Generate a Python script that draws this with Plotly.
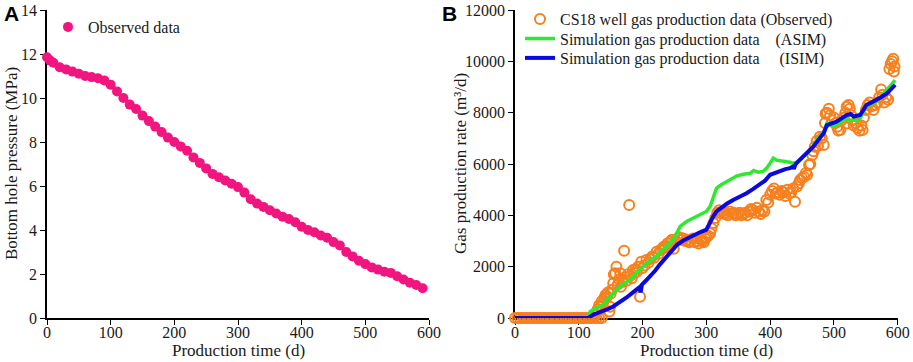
import plotly.graph_objects as go

# ---------------- Panel A data ----------------
bhp_days = [0, 5, 10, 20, 30, 40, 50, 60, 70, 80, 90, 100, 110, 120, 130, 140, 150, 160, 170, 180,
            190, 200, 210, 220, 230, 240, 250, 260, 270, 280, 290, 300, 310, 320, 330, 340, 350,
            360, 370, 380, 390, 400, 410, 420, 430, 440, 450, 460, 470, 480, 490, 500, 510, 520,
            530, 540, 550, 560, 570, 580, 590]
bhp_mpa = [11.85, 11.7, 11.6, 11.4, 11.3, 11.2, 11.1, 11.0, 10.95, 10.9, 10.8, 10.6, 10.3, 10.0, 9.7,
           9.5, 9.2, 8.95, 8.7, 8.45, 8.2, 8.0, 7.8, 7.6, 7.3, 7.05, 6.8, 6.55, 6.4, 6.25, 6.1, 5.95,
           5.7, 5.4, 5.2, 5.05, 4.9, 4.75, 4.6, 4.5, 4.35, 4.15, 4.0, 3.9, 3.75, 3.65, 3.45, 3.3, 3.0,
           2.8, 2.6, 2.45, 2.3, 2.2, 2.1, 2.05, 1.9, 1.75, 1.6, 1.5, 1.35]
a_xticks = [0, 100, 200, 300, 400, 500, 600]
a_yticks = [0, 2, 4, 6, 8, 10, 12, 14]

# ---------------- Panel B data ----------------
obs_days = [0, 4, 8, 12, 16, 20, 24, 28, 32, 36, 40, 44, 48, 52, 56, 60, 64, 68, 72, 76, 80, 84, 88,
            92, 96, 100, 104, 108, 112, 116, 120, 124, 128, 132, 136,
            126, 128, 130, 132, 134, 136, 138, 140, 142, 144, 146, 148, 149, 150, 152, 154, 155, 157,
            159, 161, 163, 165, 166, 168, 170, 171, 173, 175, 177, 179, 181, 183, 185, 187, 189, 191,
            193, 196, 198, 200, 203, 206, 209, 212, 215, 218, 222, 225, 228, 231, 233, 236, 239, 241,
            243, 246, 249, 252, 255, 258, 261, 264, 267, 270, 273, 276, 279, 282, 285, 288, 291, 294,
            296, 298, 300, 303, 306, 308, 311, 314, 317, 320, 322, 325, 328, 331, 334, 337, 340, 343,
            346, 349, 352, 355, 358, 361, 364, 367, 370, 373, 376, 379, 382, 385, 388, 391, 394, 397,
            400, 403, 406, 409, 412, 415, 418, 421, 424, 427, 430, 433, 436, 439, 442, 445, 447, 450,
            453, 456, 458, 461, 463, 466, 468, 470, 473, 475, 478, 481, 484, 486, 487, 489, 492, 494,
            497, 500, 503, 505, 507, 510, 512, 515, 518, 520, 521, 523, 525, 527, 529, 531, 534, 537,
            540, 543, 545, 547, 550, 553, 556, 559, 562, 565, 568, 571, 574, 576, 579, 582, 585, 587,
            589, 591, 593, 594, 595]
obs_rate = [0, 0, 0, 0, 0, 0, 0, 0, 0, 0, 0, 0, 0, 0, 0, 0, 0, 0, 0, 0, 0, 0, 0,
            0, 0, 0, 0, 0, 0, 0, 0, 0, 0, 0, 0,
            120, 250, 350, 500, 440, 650, 570, 780, 900, 830, 1000, 250, 440, 950, 1100, 1350, 1700, 1740,
            2000, 1300, 1500, 1740, 1220, 1400, 1480, 2620, 1600, 1450, 1700, 4400, 1650, 1550, 1870, 1750, 1900, 1800,
            2000, 830, 2190, 1950, 2050, 2260, 2150, 2300, 2400, 2350, 2580, 2500, 2650, 2700, 2780, 2750, 2900, 2800,
            2970, 3050, 2700, 3000, 3100, 3150, 3050, 3100, 3000, 3050, 2950, 3000, 3100, 2950, 3000, 2900, 3050, 3000,
            2950, 3100, 3150, 3200, 3300, 3500, 3700, 3900, 4100, 4200, 4100, 4150, 4050, 4100, 4000, 4150, 4050, 4100,
            4000, 4050, 4100, 4000, 4050, 4100, 4000, 4150, 4250, 4200, 4100, 4300, 4150, 4050, 4200, 4150, 4600, 4500,
            4800, 4950, 5050, 4850, 4900, 4800, 4950, 4900, 4750, 5000, 4850, 4900, 5050, 4530, 5120, 5250, 5380, 5450,
            5500, 5650, 5570, 5960, 6000, 6350, 6500, 6670, 6900, 6700, 7060, 7000, 6740, 7600, 7960, 8000, 8150, 7900,
            7700, 7800, 7600, 7450, 7300, 7320, 7700, 7800, 8000, 8230, 7580, 8300, 8150, 7900, 7700, 7500, 7600, 7400,
            7300, 7500, 7320, 7800, 8100, 8300, 8400, 8250, 8100, 8300, 8400, 8600, 8900, 8700, 8400, 8600, 8500, 9700,
            9900, 10000, 10100, 9600, 9800]

asim_days = [0, 115, 118, 128, 138, 148, 159, 170, 180, 190, 201, 212, 222, 230, 238, 248, 259, 269, 280,
             290, 300, 306, 316, 324, 332, 340, 348, 358, 369, 374, 381, 389, 395, 400, 405, 410, 416,
             423, 431, 436, 442, 447, 452, 458, 463, 468, 473, 479, 484, 489, 496, 504, 512, 520, 525,
             531, 536, 541, 546, 551, 559, 567, 575, 583, 590, 596]
asim_rate = [0, 0, 260, 380, 520, 800, 1100, 1320, 1490, 1740, 2010, 2230, 2400, 2620, 2790, 3050, 3570,
             3760, 3890, 4020, 4150, 4350, 5060, 5200, 5320, 5450, 5540, 5600, 5640, 5750, 5680, 5710,
             5850, 6030, 6230, 6150, 6130, 6100, 6070, 6020, 6070, 6150, 6290, 6400, 6550, 6700, 6940,
             7100, 7260, 7590, 7480, 7520, 7650, 7780, 7700, 7720, 7680, 7780, 8000, 8240, 8350, 8430,
             8650, 8880, 9050, 9270]

isim_days = [0, 115, 123, 130, 138, 146, 154, 165, 175, 185, 195, 197, 199, 205, 212, 220, 227, 235, 243,
             254, 264, 272, 280, 290, 300, 305, 311, 316, 322, 332, 342, 352, 363, 373, 384, 392, 400,
             408, 416, 424, 431, 436, 437, 440, 446, 452, 460, 468, 476, 484, 489, 496, 504, 512, 520,
             526, 531, 536, 541, 546, 551, 559, 567, 575, 583, 590, 596]
isim_rate = [0, 0, 130, 190, 260, 350, 450, 620, 800, 1000, 1200, 1000, 1300, 1450, 1620, 1850, 2080,
             2300, 2530, 2850, 3020, 3130, 3240, 3340, 3440, 3700, 3960, 4150, 4280, 4450, 4600, 4720,
             4860, 5020, 5190, 5350, 5580, 5650, 5750, 5800, 5840, 5900, 5800, 6000, 6150, 6290, 6480,
             6680, 6950, 7200, 7520, 7580, 7650, 7780, 7910, 7950, 7850, 7880, 7910, 8100, 8300, 8400,
             8500, 8620, 8750, 8900, 9080]
b_xticks = [0, 100, 200, 300, 400, 500, 600]
b_yticks = [0, 2000, 4000, 6000, 8000, 10000, 12000]

W, H = 913, 362
SERIF = "Liberation Serif, Times New Roman, serif"
TXT = "#1a1a1a"


def px_x(p):
    return p / W


def px_y(p):
    return 1 - p / H


fig = go.Figure()

fig.add_trace(go.Scatter(
    x=bhp_days, y=bhp_mpa, mode="markers", name="Observed data", cliponaxis=False,
    marker=dict(color="#F0157F", size=10, line=dict(width=0)),
    xaxis="x", yaxis="y", legend="legend"))

fig.add_trace(go.Scatter(
    x=obs_days, y=obs_rate, mode="markers", name="CS18 well gas production data (Observed)",
    cliponaxis=False,
    marker=dict(symbol="circle-open", color="#F7801E", size=10, line=dict(width=2, color="#F7801E")),
    xaxis="x2", yaxis="y2", legend="legend2"))

fig.add_trace(go.Scatter(
    x=asim_days, y=asim_rate, mode="lines", cliponaxis=False,
    name="Simulation gas production data\u00a0\u00a0\u00a0\u00a0(ASIM)",
    line=dict(color="#2EEA2E", width=3.5),
    xaxis="x2", yaxis="y2", legend="legend3"))

fig.add_trace(go.Scatter(
    x=isim_days, y=isim_rate, mode="lines", cliponaxis=False,
    name="Simulation gas production data\u00a0\u00a0\u00a0\u00a0\u00a0(ISIM)",
    line=dict(color="#0A0AE0", width=4),
    xaxis="x2", yaxis="y2", legend="legend4"))

axis_common = dict(showline=True, linecolor="black", linewidth=1.5, ticks="outside", ticklen=5,
                   tickwidth=1.2, tickcolor="black", showgrid=False, zeroline=False, automargin=False,
                   layer="below traces",
                   tickfont=dict(family=SERIF, size=16, color=TXT))

leg_common = dict(xanchor="left", yanchor="top", bgcolor="rgba(0,0,0,0)",
                  font=dict(family=SERIF, size=16, color=TXT), borderwidth=0)

fig.update_layout(
    template="none",
    width=W, height=H, margin=dict(l=0, r=0, t=0, b=0, autoexpand=False),
    paper_bgcolor="white", plot_bgcolor="white",
    xaxis=dict(domain=[px_x(47), px_x(429)], range=[0, 600], tickvals=a_xticks, ticklabelstandoff=-6,
               ticktext=[str(v) for v in a_xticks], anchor="y", **axis_common),
    yaxis=dict(domain=[px_y(318), px_y(10)], range=[0, 14], tickvals=a_yticks,
               ticktext=[str(v) for v in a_yticks], anchor="x", **axis_common),
    xaxis2=dict(domain=[px_x(515), px_x(897.7)], range=[0, 600], tickvals=b_xticks, ticklabelstandoff=-6,
                ticktext=[str(v) for v in b_xticks], anchor="y2", **axis_common),
    yaxis2=dict(domain=[px_y(318), px_y(10)], range=[0, 12000], tickvals=b_yticks,
                ticktext=[str(v) for v in b_yticks], anchor="x2", **axis_common),
    legend=dict(x=px_x(48), y=px_y(10), **leg_common),
    legend2=dict(x=px_x(520), y=px_y(2), **leg_common),
    legend3=dict(x=px_x(520), y=px_y(21.5), **leg_common),
    legend4=dict(x=px_x(520), y=px_y(41), **leg_common),
    showlegend=True,
    annotations=[
        dict(text="<b>A</b>", x=px_x(2), y=px_y(0), xref="paper", yref="paper", xanchor="left",
             yanchor="top", showarrow=False, font=dict(family="Liberation Sans, Arial", size=21, color="black")),
        dict(text="<b>B</b>", x=px_x(440), y=px_y(0), xref="paper", yref="paper", xanchor="left",
             yanchor="top", showarrow=False, font=dict(family="Liberation Sans, Arial", size=21, color="black")),
        dict(text="Production time (d)", x=px_x(238), y=px_y(350), xref="paper", yref="paper",
             xanchor="center", yanchor="middle", showarrow=False, font=dict(family=SERIF, size=17, color=TXT)),
        dict(text="Production time (d)", x=px_x(706), y=px_y(350), xref="paper", yref="paper",
             xanchor="center", yanchor="middle", showarrow=False, font=dict(family=SERIF, size=17, color=TXT)),
        dict(text="Bottom hole pressure (MPa)", x=px_x(12), y=px_y(164), xref="paper", yref="paper",
             xanchor="center", yanchor="middle", textangle=-90, showarrow=False,
             font=dict(family=SERIF, size=17, color=TXT)),
        dict(text="Gas production rate (m³/d)", x=px_x(461), y=px_y(164), xref="paper", yref="paper",
             xanchor="center", yanchor="middle", textangle=-90, showarrow=False,
             font=dict(family=SERIF, size=17, color=TXT)),
    ],
)

fig.write_html("out.html", config={"displayModeBar": False},
               post_script="document.body.style.margin='0';document.body.style.padding='0';"
                           "document.documentElement.style.overflow='hidden';")
